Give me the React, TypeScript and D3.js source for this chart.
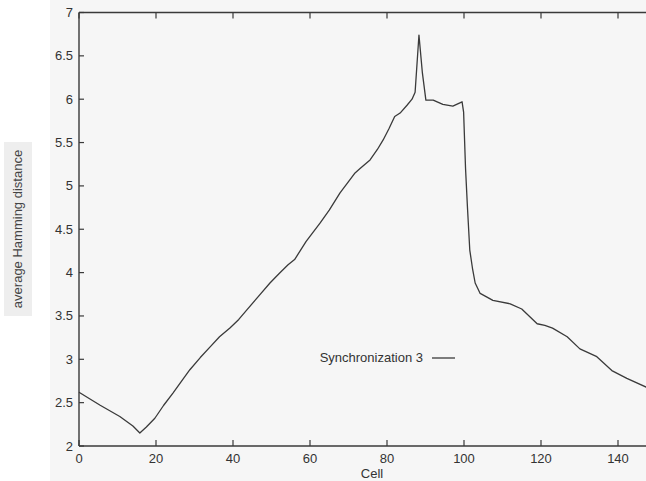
import React from "react";
import * as d3 from "d3";

const cells = [0, 5.5, 10.6, 14, 15.8, 17.5, 19.7, 22, 24.4, 26.5, 28.8, 31.5, 34, 36.5, 39.2, 41.5, 43.6, 46.5, 49.6, 52, 54.3, 56, 59, 62.6, 65, 67.8, 70, 71.7, 73, 75.6, 77.5, 79, 80.5, 82, 83.4, 85.2, 86.5, 87.3, 88.3, 89.2, 90.1, 92, 94.5, 97.1, 99.5, 99.9, 100.4, 100.9, 101.5, 102.2, 102.9, 104.2, 107.5, 112, 115, 119, 121, 123, 126.8, 130.1, 134.5, 138.4, 142.3, 147.3, 150];
const hamming = [2.62, 2.47, 2.34, 2.23, 2.15, 2.22, 2.32, 2.47, 2.61, 2.74, 2.88, 3.02, 3.14, 3.26, 3.36, 3.46, 3.57, 3.72, 3.88, 3.99, 4.09, 4.15, 4.36, 4.57, 4.72, 4.92, 5.05, 5.15, 5.2, 5.3, 5.42, 5.53, 5.66, 5.8, 5.84, 5.93, 6.0, 6.08, 6.74, 6.3, 5.99, 5.99, 5.94, 5.92, 5.97, 5.85, 5.2, 4.75, 4.26, 4.05, 3.88, 3.76, 3.68, 3.64, 3.58, 3.41, 3.39, 3.36, 3.26, 3.12, 3.03, 2.87, 2.78, 2.68, 2.63];

const xTicks = [0, 20, 40, 60, 80, 100, 120, 140];
const yTicks = [2, 2.5, 3, 3.5, 4, 4.5, 5, 5.5, 6, 6.5, 7];
const seriesName = "Synchronization 3";
const xTitle = "Cell";
const yTitle = "average Hamming distance";

export default function App() {
  const W = 646, H = 481;
  const left = 79, right = 656.5, top = 12.5, bottom = 446;
  const x = d3.scaleLinear().domain([0, 150]).range([left, right]);
  const y = d3.scaleLinear().domain([2, 7]).range([bottom, top]);
  const pts: [number, number][] = cells.map((c, i) => [c, hamming[i]]);
  const line = d3.line<[number, number]>().x(d => x(d[0])).y(d => y(d[1]));
  const font = "'Liberation Sans', Arial, Helvetica, sans-serif";
  const ink = "#3a3a3a";
  const fmt = (v: number) => String(v);
  return (
    <div style={{ position: "fixed", left: 0, top: 0, width: W, height: H, overflow: "hidden" }}>
      <svg width={W} height={H} style={{ display: "block" }} fontFamily={font}>
        <rect x={0} y={0} width={W} height={H} fill="#ffffff" />
        <rect x={50} y={0} width={W - 50} height={H} fill="#f6f6f6" />
        <rect x={4} y={142} width={28} height={174} fill="#eeeeee" />
        {/* frame */}
        <line x1={left} y1={top} x2={left} y2={bottom} stroke={ink} strokeWidth={1.4} />
        <line x1={left} y1={bottom} x2={W} y2={bottom} stroke={ink} strokeWidth={1.4} />
        <line x1={left} y1={top} x2={W} y2={top} stroke={ink} strokeWidth={1.4} />
        {/* y ticks */}
        {yTicks.map(t => (
          <g key={"y" + t}>
            <line x1={left} x2={left + 5} y1={y(t)} y2={y(t)} stroke={ink} strokeWidth={1.2} />
            <text x={73} y={y(t) + 4.5} fontSize={13} textAnchor="end" fill="#333">{fmt(t)}</text>
          </g>
        ))}
        {/* x ticks */}
        {xTicks.map(t => (
          <g key={"x" + t}>
            <line x1={x(t)} x2={x(t)} y1={bottom} y2={bottom - 6} stroke={ink} strokeWidth={1.2} />
            <line x1={x(t)} x2={x(t)} y1={top} y2={top + 6} stroke={ink} strokeWidth={1.2} />
            <text x={x(t)} y={463} fontSize={13} textAnchor="middle" fill="#333">{fmt(t)}</text>
          </g>
        ))}
        <text x={372} y={478} fontSize={13} textAnchor="middle" fill="#333">{xTitle}</text>
        <text transform="translate(22,229) rotate(-90)" fontSize={13} textAnchor="middle" fill="#444">{yTitle}</text>
        {/* series */}
        <path d={line(pts) || ""} fill="none" stroke={ink} strokeWidth={1.3} strokeLinejoin="round" />
        {/* legend */}
        <text x={423} y={362} fontSize={13} textAnchor="end" fill="#333">{seriesName}</text>
        <line x1={432} x2={455} y1={358} y2={358} stroke={ink} strokeWidth={1.3} />
      </svg>
    </div>
  );
}
